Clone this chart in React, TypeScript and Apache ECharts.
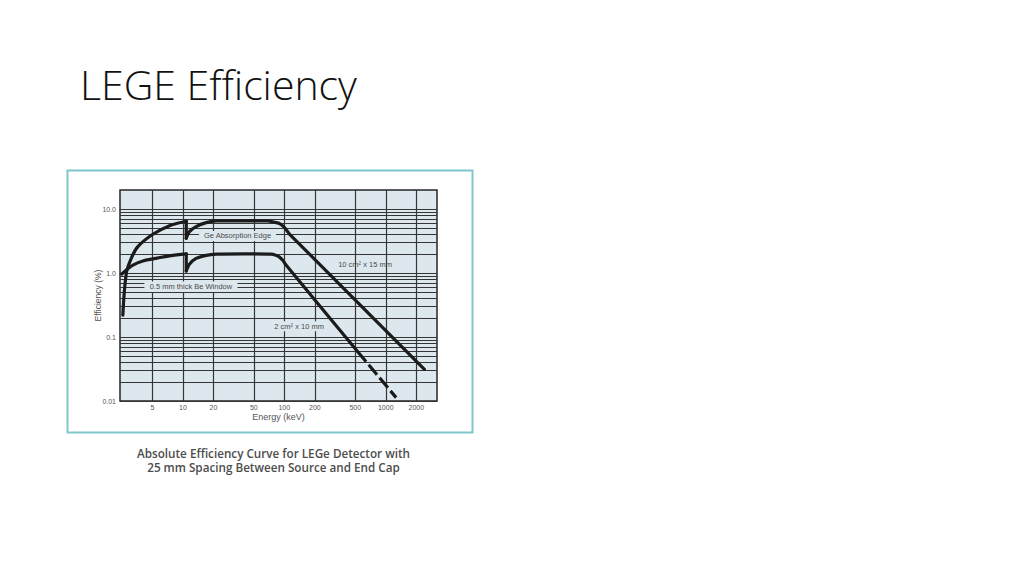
import React, { useEffect, useRef } from 'react';
import * as echarts from 'echarts';

// ---- axis ticks ----
const energyTicks = [5, 10, 20, 50, 100, 200, 500, 1000, 2000];
const energyTickLabels = ['5', '10', '20', '50', '100', '200', '500', '1000', '2000'];
const efficiencyMajor = [0.01, 0.1, 1, 10];
const efficiencyMajorLabels = ['0.01', '0.1', '1.0', '10.0'];
const efficiencyMinor = [
  0.02, 0.03, 0.04, 0.05, 0.06, 0.07, 0.08, 0.09,
  0.2, 0.3, 0.4, 0.5, 0.6, 0.7, 0.8, 0.9,
  2, 3, 4, 5, 6, 7, 8, 9,
];

// ---- 10 cm² x 15 mm detector (upper curve) ----
const largeEnergy = [2.56, 2.77, 3.1, 3.6, 5.06, 7.39, 10.8, 10.8, 11.6, 13.5, 17, 21.3, 40, 68, 82, 90, 100, 113, 2405];
const largeEfficiency = [0.22, 1.0, 1.71, 2.6, 4.06, 5.54, 6.5, 3.52, 4.46, 5.35, 6.17, 6.56, 6.6, 6.6, 6.2, 5.95, 5.2, 4.06, 0.0313];

// ---- 2 cm² x 10 mm detector (lower curve) ----
const smallEnergy = [2.5, 2.77, 3.22, 4.03, 5.06, 7.39, 10.8, 10.8, 11.6, 13.5, 17, 21.3, 40, 74, 81, 89, 97, 104, 530];
const smallEfficiency = [0.97, 1.12, 1.34, 1.55, 1.67, 1.86, 2.0, 1.08, 1.38, 1.7, 1.9, 1.98, 2.0, 1.98, 1.93, 1.8, 1.58, 1.34, 0.059];
const smallDashedEnergy = [530, 1265];
const smallDashedEfficiency = [0.059, 0.0113];

// ---- annotations ----
const annotationTexts = ['Ge Absorption Edge', '0.5 mm thick Be Window', '10 cm² x 15 mm', '2 cm² x 10 mm'];
const annotationEnergy = [34.6, 12.0, 625, 140];
const annotationEfficiency = [3.82, 0.615, 1.37, 0.148];
const annotationBoxSizes = [[77, 10], [93, 10.5], [2, 2], [58, 10]];
const annotationBoxVisible = [true, true, false, true];

const TITLE = 'LEGE Efficiency';
const CAPTION_1 = 'Absolute Efficiency Curve for LEGe Detector with';
const CAPTION_2 = '25 mm Spacing Between Source and End Cap';

const PLOT_BG = '#dde8ee';
const GRID_LINE = '#353535';
const CURVE = '#1b1b1b';
const AXIS_TEXT = '#555';

function pairs(xs: number[], ys: number[]) {
  return xs.map((x, i) => [x, ys[i]]);
}

function splitAtEdge(xs: number[], ys: number[]) {
  const pts = pairs(xs, ys);
  let k = 0;
  for (let i = 0; i < xs.length - 1; i++) {
    if (xs[i] === xs[i + 1]) { k = i; break; }
  }
  return {
    rise: pts.slice(0, k + 1),
    drop: pts.slice(k, k + 2),
    rest: pts.slice(k + 1),
  };
}

function curveSeries(name: string, data: number[][], smooth: number | boolean, dashed = false) {
  return {
    name,
    type: 'line',
    data,
    z: 4,
    smooth,
    showSymbol: false,
    symbol: 'none',
    clip: true,
    silent: true,
    lineStyle: {
      color: CURVE,
      width: 3.2,
      cap: dashed ? 'butt' : 'round',
      join: 'round',
      type: dashed ? [13, 4] : 'solid',
    },
  };
}

export default function App() {
  const ref = useRef<HTMLDivElement>(null);

  useEffect(() => {
    if (!ref.current) return;
    const chart = echarts.init(ref.current, undefined, { renderer: 'svg' });

    const large = splitAtEdge(largeEnergy, largeEfficiency);
    const small = splitAtEdge(smallEnergy, smallEfficiency);

    const axisLabelStyle = { color: AXIS_TEXT, fontSize: 7, fontFamily: 'Liberation Sans, Arial, sans-serif' };

    const gridLines: any[] = [];
    energyTicks.forEach((v, i) => {
      gridLines.push({
        xAxis: v,
        lineStyle: { color: GRID_LINE, width: 1.2, type: 'solid' },
        label: { show: true, position: 'start', distance: 3, formatter: energyTickLabels[i], ...axisLabelStyle },
      });
    });
    efficiencyMajor.forEach((v, i) => {
      gridLines.push({
        yAxis: v,
        lineStyle: { color: GRID_LINE, width: 1.1, type: 'solid' },
        label: { show: true, position: 'start', distance: 4, formatter: efficiencyMajorLabels[i], ...axisLabelStyle },
      });
    });
    efficiencyMinor.forEach((v) => {
      gridLines.push({
        yAxis: v,
        lineStyle: { color: GRID_LINE, width: 1, type: 'solid' },
        label: { show: false },
      });
    });

    const annotationData = annotationTexts.map((t, i) => ({
      value: [annotationEnergy[i], annotationEfficiency[i]],
      symbol: 'rect',
      symbolSize: annotationBoxSizes[i],
      itemStyle: { color: annotationBoxVisible[i] ? PLOT_BG : 'rgba(0,0,0,0)', opacity: 1 },
      label: {
        show: true,
        position: 'inside',
        formatter: t,
        color: '#4a4a4a',
        fontSize: 7.5,
        fontFamily: 'Liberation Sans, Arial, sans-serif',
      },
    }));

    const option: any = {
      animation: false,
      backgroundColor: '#ffffff',
      grid: {
        left: 120,
        top: 190,
        width: 317,
        height: 211,
        show: true,
        backgroundColor: PLOT_BG,
        borderColor: '#262626',
        borderWidth: 1.5,
        containLabel: false,
        outerBoundsMode: 'none',
      },
      xAxis: {
        type: 'log',
        logBase: 10,
        min: 2.4,
        max: 3200,
        axisLine: { show: false },
        axisTick: { show: false },
        axisLabel: { show: false },
        splitLine: { show: false },
        minorSplitLine: { show: false },
        name: 'Energy (keV)',
        nameLocation: 'middle',
        nameGap: 11,
        nameTextStyle: { color: AXIS_TEXT, fontSize: 9, fontFamily: 'Liberation Sans, Arial, sans-serif' },
      },
      yAxis: {
        type: 'log',
        logBase: 10,
        min: 0.01,
        max: 20,
        axisLine: { show: false },
        axisTick: { show: false },
        axisLabel: { show: false },
        splitLine: { show: false },
        name: 'Efficiency (%)',
        nameLocation: 'middle',
        nameRotate: 90,
        nameGap: 18,
        nameTextStyle: { color: AXIS_TEXT, fontSize: 8.5, fontFamily: 'Liberation Sans, Arial, sans-serif' },
      },
      graphic: [
        {
          type: 'rect',
          z: -10,
          shape: { x: 67.5, y: 170.5, width: 405, height: 262 },
          style: { fill: '#ffffff', stroke: '#7fc5cc', lineWidth: 2 },
          silent: true,
        },
        {
          type: 'text',
          x: 80,
          y: 84,
          style: {
            text: TITLE,
            fill: '#111111',
            font: '300 41px "Open Sans", "Noto Sans", sans-serif',
            textAlign: 'left',
            textVerticalAlign: 'middle',
          },
          silent: true,
        },
        {
          type: 'text',
          x: 273.5,
          y: 453,
          style: {
            text: CAPTION_1,
            fill: '#4d4d4d',
            font: '600 11.7px "Open Sans", Lato, sans-serif',
            textAlign: 'center',
            textVerticalAlign: 'middle',
          },
          silent: true,
        },
        {
          type: 'text',
          x: 273.5,
          y: 467,
          style: {
            text: CAPTION_2,
            fill: '#4d4d4d',
            font: '600 11.7px "Open Sans", Lato, sans-serif',
            textAlign: 'center',
            textVerticalAlign: 'middle',
          },
          silent: true,
        },
      ],
      series: [
        {
          name: 'grid',
          type: 'line',
          data: [],
          z: 1,
          silent: true,
          clip: false,
          markLine: {
            silent: true,
            z: 1,
            symbol: ['none', 'none'],
            animation: false,
            data: gridLines,
          },
        },
        {
          name: 'annotations',
          type: 'scatter',
          z: 3,
          silent: true,
          clip: false,
          data: annotationData,
        },
        curveSeries('large-rise', large.rise, 0.35),
        curveSeries('large-edge', large.drop, false),
        curveSeries('large-rest', large.rest, 0.25),
        curveSeries('small-rise', small.rise, 0.35),
        curveSeries('small-edge', small.drop, false),
        curveSeries('small-rest', small.rest, 0.25),
        curveSeries('small-dashed', pairs(smallDashedEnergy, smallDashedEfficiency), false, true),
      ],
    };

    chart.setOption(option);
    return () => chart.dispose();
  }, []);

  return (
    <div
      ref={ref}
      style={{ position: 'absolute', left: 0, top: 0, width: 1024, height: 576, background: '#fff' }}
    />
  );
}
